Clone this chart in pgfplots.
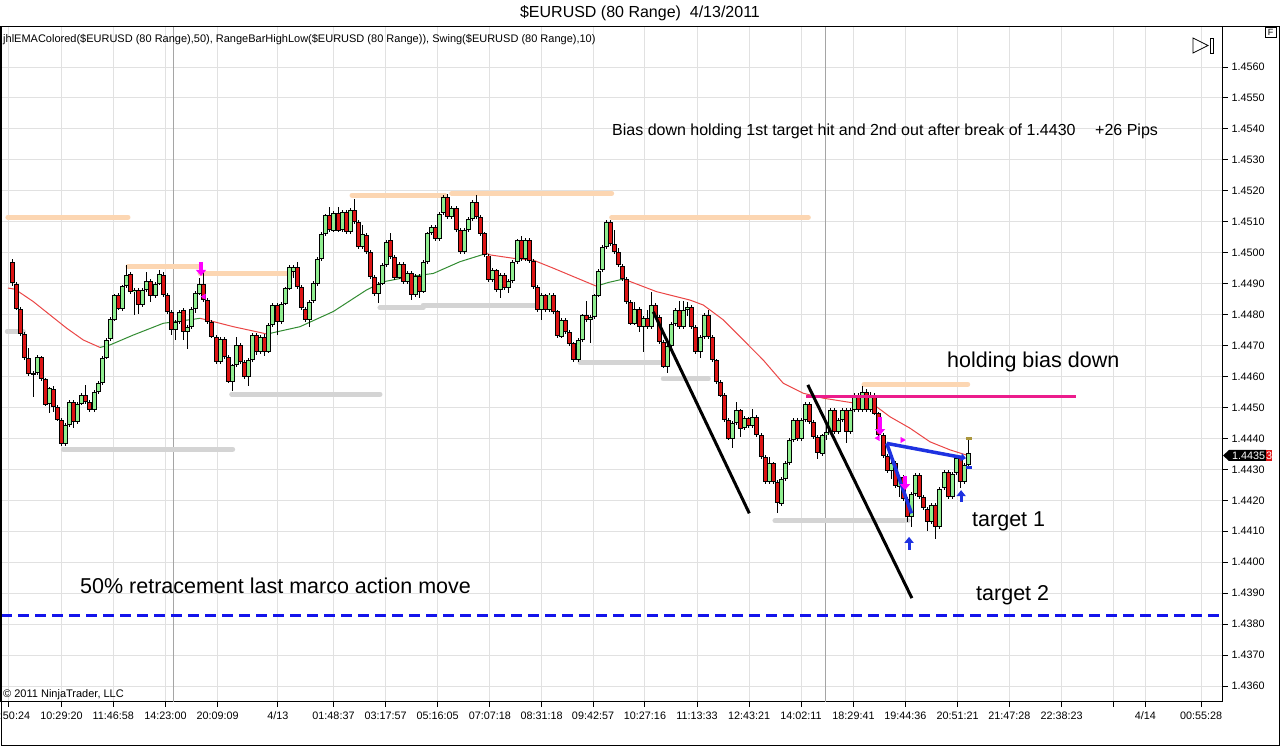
\documentclass[border=0pt]{standalone}
\usepackage{pgfplots}
\pgfplotsset{compat=1.18}
\usepackage{pgfplotstable}
\usepackage{fontspec}
\setmainfont{Liberation Sans}
\usetikzlibrary{arrows.meta}
\definecolor{cred}{RGB}{220,20,20}
\definecolor{cgreen}{RGB}{144,238,144}
\definecolor{emared}{RGB}{235,70,70}
\definecolor{emagreen}{RGB}{50,140,50}
\definecolor{peach}{RGB}{252,214,178}
\definecolor{swgray}{RGB}{212,212,212}
\definecolor{hotpink}{RGB}{236,28,140}
\definecolor{dblue}{RGB}{20,20,235}
\definecolor{lblue}{RGB}{30,50,225}
\definecolor{fuch}{RGB}{255,0,255}
\definecolor{gridc}{RGB}{225,225,225}
\definecolor{sessc}{RGB}{165,165,165}
\definecolor{olivec}{RGB}{170,150,60}

\pgfplotstableread{
i o h l c
0 1.44971 1.44982 1.44895 1.44901
1 1.44901 1.44907 1.44814 1.44820
2 1.44820 1.44826 1.44733 1.44739
3 1.44739 1.44745 1.44656 1.44662
4 1.44662 1.44692 1.44604 1.44610
5 1.44608 1.44618 1.44535 1.44613
6 1.44613 1.44669 1.44607 1.44662
7 1.44662 1.44668 1.44585 1.44591
8 1.44591 1.44597 1.44504 1.44510
9 1.44510 1.44568 1.44482 1.44562
10 1.44562 1.44568 1.44486 1.44502
11 1.44502 1.44508 1.44456 1.44462
12 1.44462 1.44468 1.44375 1.44382
13 1.44382 1.44449 1.44376 1.44443
14 1.44443 1.44525 1.44437 1.44519
15 1.44519 1.44525 1.44434 1.44454
16 1.44454 1.44519 1.44448 1.44513
17 1.44513 1.44548 1.44507 1.44542
18 1.44542 1.44573 1.44513 1.44519
19 1.44519 1.44525 1.44485 1.44492
20 1.44492 1.44557 1.44486 1.44551
21 1.44551 1.44586 1.44545 1.44580
22 1.44580 1.44668 1.44574 1.44662
23 1.44662 1.44726 1.44656 1.44720
24 1.44720 1.44791 1.44714 1.44785
25 1.44785 1.44869 1.44779 1.44863
26 1.44863 1.44869 1.44814 1.44820
27 1.44820 1.44898 1.44814 1.44892
28 1.44892 1.44960 1.44886 1.44930
29 1.44933 1.44939 1.44868 1.44874
30 1.44874 1.44887 1.44799 1.44881
31 1.44880 1.44886 1.44805 1.44831
32 1.44831 1.44886 1.44825 1.44880
33 1.44880 1.44938 1.44874 1.44910
34 1.44910 1.44916 1.44841 1.44863
35 1.44863 1.44907 1.44857 1.44901
36 1.44901 1.44944 1.44895 1.44933
37 1.44930 1.44939 1.44857 1.44863
38 1.44863 1.44869 1.44804 1.44810
39 1.44810 1.44816 1.44735 1.44750
40 1.44750 1.44782 1.44718 1.44776
41 1.44776 1.44816 1.44770 1.44810
42 1.44815 1.44821 1.44720 1.44745
43 1.44745 1.44767 1.44689 1.44761
44 1.44761 1.44826 1.44755 1.44820
45 1.44820 1.44875 1.44805 1.44869
46 1.44869 1.44918 1.44863 1.44901
47 1.44901 1.44939 1.44841 1.44847
48 1.44847 1.44853 1.44771 1.44777
49 1.44777 1.44783 1.44723 1.44729
50 1.44729 1.44735 1.44642 1.44648
51 1.44648 1.44729 1.44642 1.44723
52 1.44723 1.44729 1.44658 1.44664
53 1.44664 1.44670 1.44579 1.44583
54 1.44583 1.44643 1.44556 1.44637
55 1.44637 1.44728 1.44631 1.44702
56 1.44702 1.44708 1.44642 1.44648
57 1.44648 1.44654 1.44593 1.44599
58 1.44599 1.44659 1.44569 1.44653
59 1.44653 1.44740 1.44647 1.44734
60 1.44734 1.44740 1.44669 1.44680
61 1.44680 1.44735 1.44674 1.44729
62 1.44729 1.44740 1.44666 1.44680
63 1.44680 1.44773 1.44674 1.44767
64 1.44767 1.44837 1.44761 1.44831
65 1.44831 1.44837 1.44734 1.44777
66 1.44777 1.44842 1.44771 1.44836
67 1.44836 1.44891 1.44830 1.44885
68 1.44885 1.44961 1.44879 1.44955
69 1.44940 1.44960 1.44920 1.44955
70 1.44955 1.44971 1.44884 1.44890
71 1.44890 1.44896 1.44814 1.44820
72 1.44820 1.44826 1.44777 1.44783
73 1.44783 1.44848 1.44761 1.44842
74 1.44842 1.44907 1.44836 1.44901
75 1.44901 1.44988 1.44895 1.44982
76 1.44982 1.45069 1.44976 1.45063
77 1.45063 1.45128 1.45057 1.45122
78 1.45122 1.45149 1.45067 1.45073
79 1.45073 1.45136 1.45067 1.45130
80 1.45130 1.45149 1.45067 1.45073
81 1.45073 1.45138 1.45067 1.45132
82 1.45132 1.45140 1.45062 1.45068
83 1.45068 1.45146 1.45062 1.45140
84 1.45140 1.45176 1.45094 1.45100
85 1.45100 1.45106 1.45013 1.45019
86 1.45019 1.45090 1.45013 1.45060
87 1.45060 1.45066 1.44997 1.45003
88 1.45003 1.45009 1.44916 1.44922
89 1.44922 1.44928 1.44863 1.44869
90 1.44869 1.44907 1.44837 1.44901
91 1.44901 1.44966 1.44895 1.44960
92 1.44960 1.45042 1.44954 1.45036
93 1.45041 1.45065 1.44981 1.44987
94 1.44987 1.44993 1.44914 1.44920
95 1.44920 1.44971 1.44914 1.44965
96 1.44965 1.44971 1.44899 1.44905
97 1.44905 1.44941 1.44899 1.44935
98 1.44935 1.44941 1.44847 1.44863
99 1.44863 1.44931 1.44857 1.44925
100 1.44925 1.44931 1.44855 1.44875
101 1.44875 1.44976 1.44869 1.44970
102 1.44970 1.45069 1.44964 1.45063
103 1.45063 1.45090 1.45057 1.45084
104 1.45084 1.45090 1.45039 1.45045
105 1.45045 1.45133 1.45039 1.45127
106 1.45127 1.45187 1.45121 1.45181
107 1.45181 1.45192 1.45110 1.45116
108 1.45116 1.45151 1.45110 1.45145
109 1.45145 1.45151 1.45067 1.45073
110 1.45073 1.45079 1.44997 1.45003
111 1.45003 1.45079 1.44997 1.45073
112 1.45073 1.45117 1.45067 1.45111
113 1.45111 1.45171 1.45105 1.45165
114 1.45165 1.45186 1.45110 1.45116
115 1.45116 1.45122 1.45057 1.45063
116 1.45063 1.45069 1.44986 1.44992
117 1.44992 1.44998 1.44906 1.44912
118 1.44912 1.44950 1.44906 1.44944
119 1.44944 1.44950 1.44874 1.44880
120 1.44880 1.44936 1.44855 1.44930
121 1.44930 1.44936 1.44879 1.44885
122 1.44885 1.44916 1.44870 1.44910
123 1.44910 1.44976 1.44904 1.44970
124 1.44970 1.45047 1.44964 1.45041
125 1.45041 1.45055 1.44974 1.44980
126 1.44980 1.45047 1.44974 1.45041
127 1.45041 1.45047 1.44969 1.44975
128 1.44975 1.44981 1.44884 1.44890
129 1.44890 1.44896 1.44809 1.44815
130 1.44815 1.44869 1.44783 1.44863
131 1.44863 1.44869 1.44809 1.44815
132 1.44815 1.44871 1.44809 1.44865
133 1.44865 1.44871 1.44804 1.44810
134 1.44810 1.44816 1.44723 1.44729
135 1.44729 1.44789 1.44723 1.44783
136 1.44783 1.44789 1.44739 1.44745
137 1.44745 1.44751 1.44701 1.44707
138 1.44707 1.44713 1.44647 1.44653
139 1.44653 1.44724 1.44647 1.44718
140 1.44718 1.44805 1.44712 1.44799
141 1.44799 1.44845 1.44777 1.44783
142 1.44783 1.44799 1.44707 1.44793
143 1.44793 1.44869 1.44787 1.44863
144 1.44863 1.44950 1.44857 1.44944
145 1.44944 1.45026 1.44938 1.45020
146 1.45020 1.45106 1.45014 1.45100
147 1.45100 1.45106 1.45024 1.45030
148 1.45030 1.45075 1.44997 1.45003
149 1.45003 1.45015 1.44954 1.44960
150 1.44960 1.44966 1.44911 1.44917
151 1.44917 1.44923 1.44836 1.44842
152 1.44842 1.44848 1.44766 1.44772
153 1.44772 1.44842 1.44766 1.44820
154 1.44820 1.44826 1.44745 1.44761
155 1.44761 1.44796 1.44680 1.44790
156 1.44790 1.44815 1.44755 1.44761
157 1.44761 1.44874 1.44755 1.44831
158 1.44831 1.44837 1.44787 1.44793
159 1.44793 1.44799 1.44706 1.44712
160 1.44712 1.44718 1.44626 1.44632
161 1.44632 1.44706 1.44611 1.44700
162 1.44700 1.44776 1.44694 1.44770
163 1.44770 1.44821 1.44764 1.44815
164 1.44815 1.44845 1.44755 1.44761
165 1.44761 1.44845 1.44755 1.44815
166 1.44815 1.44840 1.44795 1.44825
167 1.44825 1.44831 1.44755 1.44761
168 1.44761 1.44767 1.44674 1.44680
169 1.44680 1.44735 1.44660 1.44729
170 1.44729 1.44805 1.44723 1.44799
171 1.44799 1.44815 1.44723 1.44729
172 1.44729 1.44735 1.44647 1.44653
173 1.44653 1.44659 1.44577 1.44583
174 1.44583 1.44589 1.44534 1.44540
175 1.44540 1.44546 1.44453 1.44459
176 1.44459 1.44465 1.44394 1.44400
177 1.44400 1.44456 1.44369 1.44450
178 1.44450 1.44519 1.44444 1.44492
179 1.44492 1.44498 1.44405 1.44433
180 1.44433 1.44471 1.44427 1.44465
181 1.44465 1.44471 1.44434 1.44440
182 1.44440 1.44495 1.44434 1.44470
183 1.44470 1.44476 1.44405 1.44411
184 1.44411 1.44417 1.44335 1.44341
185 1.44341 1.44347 1.44254 1.44260
186 1.44260 1.44341 1.44254 1.44320
187 1.44320 1.44326 1.44254 1.44260
188 1.44260 1.44266 1.44159 1.44190
189 1.44190 1.44276 1.44184 1.44270
190 1.44270 1.44326 1.44264 1.44320
191 1.44320 1.44401 1.44314 1.44395
192 1.44395 1.44466 1.44389 1.44460
193 1.44460 1.44466 1.44394 1.44400
194 1.44400 1.44466 1.44394 1.44460
195 1.44460 1.44519 1.44454 1.44513
196 1.44513 1.44519 1.44448 1.44454
197 1.44454 1.44460 1.44400 1.44406
198 1.44406 1.44412 1.44336 1.44352
199 1.44352 1.44417 1.44346 1.44411
200 1.44411 1.44440 1.44395 1.44422
201 1.44422 1.44498 1.44416 1.44492
202 1.44492 1.44498 1.44416 1.44422
203 1.44422 1.44466 1.44416 1.44460
204 1.44460 1.44498 1.44454 1.44492
205 1.44492 1.44498 1.44385 1.44422
206 1.44422 1.44498 1.44416 1.44492
207 1.44492 1.44546 1.44486 1.44540
208 1.44540 1.44546 1.44486 1.44492
209 1.44492 1.44570 1.44486 1.44551
210 1.44551 1.44560 1.44486 1.44492
211 1.44492 1.44550 1.44486 1.44540
212 1.44540 1.44546 1.44475 1.44481
213 1.44481 1.44487 1.44405 1.44411
214 1.44411 1.44417 1.44339 1.44345
215 1.44345 1.44351 1.44289 1.44295
216 1.44295 1.44326 1.44270 1.44320
217 1.44320 1.44326 1.44239 1.44245
218 1.44245 1.44282 1.44212 1.44276
219 1.44276 1.44282 1.44199 1.44205
220 1.44205 1.44211 1.44131 1.44147
221 1.44147 1.44226 1.44115 1.44220
222 1.44220 1.44288 1.44214 1.44282
223 1.44282 1.44288 1.44206 1.44212
224 1.44212 1.44218 1.44168 1.44174
225 1.44174 1.44180 1.44104 1.44131
226 1.44131 1.44191 1.44125 1.44185
227 1.44185 1.44191 1.44077 1.44115
228 1.44115 1.44245 1.44109 1.44239
229 1.44239 1.44299 1.44233 1.44293
230 1.44293 1.44299 1.44206 1.44212
231 1.44212 1.44293 1.44206 1.44287
232 1.44287 1.44342 1.44281 1.44336
233 1.44336 1.44342 1.44240 1.44260
234 1.44260 1.44320 1.44254 1.44314
235 1.44314 1.44401 1.44308 1.44353
}\bars

\begin{document}
\begin{tikzpicture}[x=1pt,y=1pt]
\path[use as bounding box] (0pt,0pt) rectangle (1280pt,747pt);
\fill[white] (0pt,0pt) rectangle (1280pt,747pt);
\begin{axis}[
  at={(1pt,45pt)}, anchor=south west, scale only axis,
  width=1222pt, height=675pt,
  xmin=-2.877, xmax=297.59, ymin=1.435484, ymax=1.457293,
  axis line style={black, line width=1pt},
  xtick pos=left, ytick pos=right, yticklabel pos=right,
  tick align=outside, major tick length=5pt,
  tick style={black, line width=1pt},
  grid=major, major grid style={gridc, line width=1pt},
  scaled y ticks=false, scaled x ticks=false,
  ytick={1.436,1.437,1.438,1.439,1.440,1.441,1.442,1.443,1.444,1.445,1.446,1.447,1.448,1.449,1.450,1.451,1.452,1.453,1.454,1.455,1.456},
  yticklabels={1.4360,1.4370,1.4380,1.4390,1.4400,1.4410,1.4420,1.4430,1.4440,1.4450,1.4460,1.4470,1.4480,1.4490,1.4500,1.4510,1.4520,1.4530,1.4540,1.4550,1.4560},
  xtick={-0.91,12.0,24.74,37.57,50.38,65.18,78.88,91.71,104.48,117.31,130.05,142.69,155.47,168.26,181.05,193.83,206.74,219.48,232.34,245.07,257.91,270.67,278.49,292.24},
  xticklabels={{\hphantom{00}:50:24},10:29:20,11:46:58,14:23:00,20:09:09,4/13,01:48:37,03:17:57,05:16:05,07:07:18,08:31:18,09:42:57,10:27:16,11:13:33,12:43:21,14:02:11,18:29:41,19:44:36,20:51:21,21:47:28,22:38:23,{},4/14,00:55:28},
  tick label style={font=\fontsize{10.8}{13}\selectfont},
  xticklabel style={yshift=-1pt},
]
% session separators
\addplot[sessc, line width=1pt] coordinates {(39.49,1.4354) (39.49,1.4573)};
\addplot[sessc, line width=1pt] coordinates {(199.9,1.4354) (199.9,1.4573)};
% swing highs
\addplot[peach, line width=5pt, line cap=round] coordinates {(-1.18,1.45115) (28.35,1.45115)};
\addplot[peach, line width=5pt, line cap=round] coordinates {(28.35,1.44955) (46.05,1.44955)};
\addplot[peach, line width=5pt, line cap=round] coordinates {(46.05,1.44933) (68.6,1.44933)};
\addplot[peach, line width=5pt, line cap=round] coordinates {(83.43,1.45186) (106.3,1.45186)};
\addplot[peach, line width=5pt, line cap=round] coordinates {(107.94,1.45192) (147.28,1.45192)};
\addplot[peach, line width=5pt, line cap=round] coordinates {(147.28,1.45114) (195.63,1.45114)};
\addplot[peach, line width=5pt, line cap=round] coordinates {(209.32,1.44575) (234.82,1.44575)};
% swing lows
\addplot[swgray, line width=5pt, line cap=round] coordinates {(-1.33,1.44745) (2.61,1.44745)};
\addplot[swgray, line width=5pt, line cap=round] coordinates {(12.44,1.44365) (54.09,1.44365)};
\addplot[swgray, line width=5pt, line cap=round] coordinates {(53.85,1.44543) (90.31,1.44543)};
\addplot[swgray, line width=5pt, line cap=round] coordinates {(90.31,1.44822) (100.96,1.44822)};
\addplot[swgray, line width=5pt, line cap=round] coordinates {(100.96,1.44831) (129.65,1.44831)};
\addplot[swgray, line width=5pt, line cap=round] coordinates {(139.49,1.44645) (159.16,1.44645)};
\addplot[swgray, line width=5pt, line cap=round] coordinates {(159.97,1.44592) (171.04,1.44592)};
\addplot[swgray, line width=5pt, line cap=round] coordinates {(187.43,1.44134) (220.14,1.44134)};
% EMA
\addplot[emared, line width=1pt] coordinates {(-1.16,1.44886) (0.57,1.44882) (5.07,1.44842) (9.17,1.44799) (13.28,1.44756) (17.36,1.44718) (21.47,1.44694)};
\addplot[emagreen, line width=1pt] coordinates {(21.47,1.44694) (23.92,1.44702) (29.65,1.44734) (37.03,1.44772) (46.05,1.44788)};
\addplot[emared, line width=1pt] coordinates {(46.05,1.44788) (47.70,1.44783) (54.24,1.44761) (61.62,1.44740) (62.45,1.44737)};
\addplot[emagreen, line width=1pt] coordinates {(62.45,1.44737) (70.64,1.44761) (78.83,1.44810) (87.04,1.44880) (91.12,1.44906) (97.69,1.44923) (103.42,1.44933) (109.98,1.44971) (116.55,1.44998)};
\addplot[emared, line width=1pt] coordinates {(116.55,1.44998) (117.36,1.44993) (123.09,1.44982) (128.01,1.44976) (132.93,1.44950) (137.84,1.44923) (143.5,1.44892)};
\addplot[emagreen, line width=1pt] coordinates {(143.5,1.44892) (146.5,1.44904) (150.2,1.44915)};
\addplot[emared, line width=1pt] coordinates {(150.2,1.44915) (158.35,1.44874) (166.54,1.44847) (169.81,1.44831) (174.73,1.44783) (179.65,1.44718) (184.56,1.44653) (189.48,1.44578) (194.40,1.44546) (199.31,1.44530) (207.53,1.44513) (212.44,1.44502) (215.71,1.44470) (220.63,1.44433) (225.55,1.44389) (230.47,1.44363) (234.57,1.44346)};
% candles: wicks
\addplot[draw=none, mark=none, error bars/.cd, y dir=both, y explicit, error mark=none,
  error bar style={draw=black, line width=1pt}]
  table[x=i, y expr={(\thisrow{h}+\thisrow{l})/2}, y error expr={(\thisrow{h}-\thisrow{l})/2}] {\bars};
% body outlines
\addplot[draw=none, mark=none, error bars/.cd, y dir=both, y explicit, error mark=none,
  error bar style={draw=black, line width=5pt}]
  table[x=i, y expr={(\thisrow{o}+\thisrow{c})/2}, y error expr={abs(\thisrow{o}-\thisrow{c})/2}] {\bars};
% green bodies
\addplot[draw=none, mark=none, restrict expr to domain={\thisrow{c}-\thisrow{o}}{0:1},
  error bars/.cd, y dir=both, y explicit, error mark=none,
  error bar style={draw=cgreen, line width=3pt}]
  table[x=i, y expr={(\thisrow{o}+\thisrow{c})/2}, y error expr={max(abs(\thisrow{o}-\thisrow{c})/2-0.000032,0)}] {\bars};
% red bodies
\addplot[draw=none, mark=none, restrict expr to domain={\thisrow{c}-\thisrow{o}}{-1:0},
  error bars/.cd, y dir=both, y explicit, error mark=none,
  error bar style={draw=cred, line width=3pt}]
  table[x=i, y expr={(\thisrow{o}+\thisrow{c})/2}, y error expr={max(abs(\thisrow{o}-\thisrow{c})/2-0.000032,0)}] {\bars};
% drawings
\addplot[dblue, line width=3pt, dash pattern=on 11pt off 6pt] coordinates {(-2.877,1.43829) (297.59,1.43829)};
\addplot[hotpink, line width=3pt] coordinates {(195.1,1.44537) (261.5,1.44537)};
\addplot[black, line width=3pt] coordinates {(157.51,1.44809) (181.12,1.44158)};
\addplot[black, line width=3pt] coordinates {(195.5,1.44573) (221.1,1.43884)};
\addplot[lblue, line width=3.5pt, -{Triangle[width=8pt,length=5pt]}] coordinates {(214.9,1.44384) (234.4,1.44336)};
\addplot[lblue, line width=3.5pt] coordinates {(214.9,1.44384) (221.0,1.44158)};
\addplot[fuch, line width=3.5pt, -{Triangle[width=10pt,length=6pt]}] coordinates {(46.3,1.44970) (46.3,1.44925)};
\addplot[fuch, line width=3.5pt, -{Triangle[width=10pt,length=6pt]}] coordinates {(213.26,1.44470) (213.26,1.44411)};
\addplot[fuch, line width=3.5pt, -{Triangle[width=10pt,length=6pt]}] coordinates {(219.4,1.44279) (219.4,1.44233)};
\addplot[only marks, mark=triangle*, mark size=3pt, fuch, mark options={rotate=90}] coordinates {(47.04,1.44858) (212.76,1.44401)};
\addplot[only marks, mark=triangle*, mark size=3pt, fuch, mark options={rotate=-90}] coordinates {(218.74,1.44395)};
\addplot[lblue, line width=3pt, -{Triangle[width=9pt,length=6pt]}] coordinates {(220.4,1.44040) (220.4,1.44082)};
\addplot[lblue, line width=3pt, -{Triangle[width=9pt,length=6pt]}] coordinates {(233.2,1.44196) (233.2,1.44233)};
\addplot[olivec, line width=3pt] coordinates {(234.4,1.44400) (235.9,1.44400)};
\addplot[lblue, line width=3pt] coordinates {(234.4,1.44307) (235.9,1.44307)};
\end{axis}
% frame
\draw[black, line width=1pt] (1pt,1pt) rectangle (1279pt,720pt);
% title and texts
\node[anchor=base, inner sep=0, font=\fontsize{16}{19}\selectfont] at (640pt,729pt) {\$EURUSD (80 Range)\ \ 4/13/2011};
\node[anchor=base west, inner sep=0, font=\fontsize{11}{13}\selectfont] at (3pt,704pt) {jhlEMAColored(\$EURUSD (80 Range),50), RangeBarHighLow(\$EURUSD (80 Range)), Swing(\$EURUSD (80 Range),10)};
\node[anchor=base west, inner sep=0, font=\fontsize{11}{13}\selectfont] at (3pt,49pt) {© 2011 NinjaTrader, LLC};
\node[anchor=base west, inner sep=0, font=\fontsize{16}{19}\selectfont] at (612pt,611pt) {Bias down holding 1st target hit and 2nd out after break of 1.4430};
\node[anchor=base west, inner sep=0, font=\fontsize{16}{19}\selectfont] at (1095pt,611pt) {+26 Pips};
\node[anchor=base west, inner sep=0, font=\fontsize{21.5}{25}\selectfont] at (947pt,379pt) {holding bias down};
\node[anchor=base west, inner sep=0, font=\fontsize{21.5}{25}\selectfont] at (972pt,220pt) {target 1};
\node[anchor=base west, inner sep=0, font=\fontsize{21.5}{25}\selectfont] at (976pt,146pt) {target 2};
\node[anchor=base west, inner sep=0, font=\fontsize{21.5}{25}\selectfont] at (80pt,153pt) {50\% retracement last marco action move};
% price marker
\fill[black] (1223pt,291.5pt) -- (1229pt,297pt) -- (1266pt,297pt) -- (1266pt,286pt) -- (1229pt,286pt) -- cycle;
\fill[cred] (1266pt,286pt) rectangle (1272pt,297pt);
\node[anchor=base west, inner sep=0, text=white, font=\fontsize{10.8}{13}\selectfont] at (1232pt,287.5pt) {1.4435};
\node[anchor=base west, inner sep=0, text=white, font=\fontsize{10.8}{13}\selectfont] at (1266pt,287.5pt) {3};
% F box and icon
\draw[black, line width=0.8pt] (1265pt,710pt) rectangle (1276pt,720pt);
\node[font=\fontsize{9}{10}\selectfont, inner sep=0] at (1270.5pt,715pt) {F};
\draw[black, line width=0.8pt] (1193pt,709pt) -- (1193pt,694pt) -- (1208pt,701.5pt) -- cycle;
\draw[black, line width=0.8pt] (1210pt,694pt) rectangle (1213pt,709pt);
\end{tikzpicture}
\end{document}
